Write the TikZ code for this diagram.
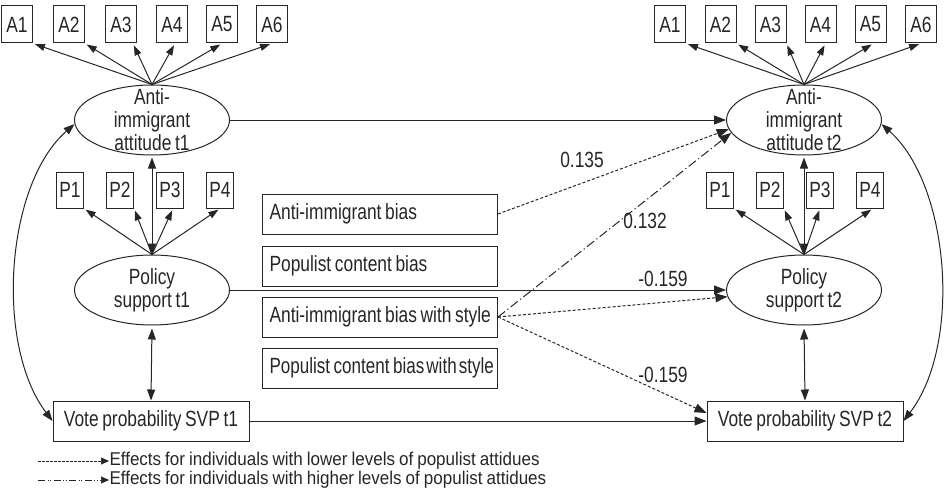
\documentclass[tikz,border=0pt]{standalone}
\usepackage{fontspec}
\setmainfont{Liberation Sans}[FakeStretch=0.79, WordSpace=0.75]
\newfontfamily\legfont{Liberation Sans}[FakeStretch=0.92, WordSpace=0.85]
\usetikzlibrary{shapes.geometric,arrows.meta}
\newcommand\lefttext[1]{\makebox[221pt][l]{#1}}
\begin{document}
\begin{tikzpicture}[x=1pt,y=-1pt, line width=1pt, draw=black!85, text=black!85,
 font=\fontsize{22}{23}\selectfont,
 tip/.style={-{Triangle[length=12pt,width=9pt]}},
 dtip/.style={{Triangle[length=11pt,width=8pt]}-{Triangle[length=11pt,width=8pt]}},
 smalltip/.style={-{Triangle[length=10pt,width=7pt]}},
 legtip/.style={-{Triangle[length=8pt,width=7pt]}},
 ind/.style={draw, minimum width=31pt, minimum height=37pt, inner sep=0pt},
 pind/.style={draw, minimum width=27pt, minimum height=36pt, inner sep=0pt},
 lat/.style={draw, ellipse, minimum width=155pt, minimum height=70pt, inner sep=0pt},
 lattext/.style={align=center, inner sep=0pt, text=black!85},
 obs/.style={draw, minimum width=196pt, minimum height=40pt, inner sep=0pt},
 bias/.style={draw, minimum width=235pt, minimum height=40pt, inner xsep=7pt, inner ysep=0pt},
 coef/.style={inner sep=0pt},
 lowfx/.style={dash pattern=on 3pt off 2pt},
 highfx/.style={dash pattern=on 9pt off 3pt on 1.2pt off 3pt},
 leglow/.style={dash pattern=on 2.5pt off 1.5pt},
 leghigh/.style={dash pattern=on 7pt off 2.5pt on 1pt off 1.5pt on 1pt off 2.5pt},
 legtext/.style={anchor=west, inner sep=0pt, font=\legfont\fontsize{18.5}{19}\selectfont},
]
\useasboundingbox (0,0) rectangle (951,495);

% ---------- left block ----------
\node[lat, label={[lattext]center:{Anti-\\immigrant\\attitude t1}}] (e1) at (152,120) {};
\node[lat, label={[lattext]center:{Policy\\support t1}}] (ps1) at (152,290) {};
\node[obs] (v1) at (151,421) {Vote probability SVP t1};

\node[ind] (la1) at (17,24.5) {A1};
\node[ind] (la2) at (69,24.5) {A2};
\node[ind] (la3) at (121,24.5) {A3};
\node[ind] (la4) at (172,24.5) {A4};
\node[ind] (la5) at (222,24.5) {A5};
\node[ind] (la6) at (272,24.5) {A6};

\node[pind] (lp1) at (70,190) {P1};
\node[pind] (lp2) at (120,190) {P2};
\node[pind] (lp3) at (170,190) {P3};
\node[pind] (lp4) at (220,190) {P4};

% ---------- right block ----------
\node[lat, label={[lattext]center:{Anti-\\immigrant\\attitude t2}}] (e2) at (804,120) {};
\node[lat, label={[lattext]center:{Policy\\support t2}}] (ps2) at (804,290) {};
\node[obs] (v2) at (805,421) {Vote probability SVP t2};

\node[ind] (ra1) at (670,24.5) {A1};
\node[ind] (ra2) at (720.5,24.5) {A2};
\node[ind] (ra3) at (770.5,24.5) {A3};
\node[ind] (ra4) at (820.5,24.5) {A4};
\node[ind] (ra5) at (870.5,24.5) {A5};
\node[ind] (ra6) at (921,24.5) {A6};

\node[pind] (rp1) at (720,190) {P1};
\node[pind] (rp2) at (770,190) {P2};
\node[pind] (rp3) at (820,190) {P3};
\node[pind] (rp4) at (870,190) {P4};

% ---------- middle bias boxes ----------
\node[bias] (b1) at (380,214) {\lefttext{Anti-immigrant bias}};
\node[bias] (b2) at (380,266) {\lefttext{Populist content bias}};
\node[bias] (b3) at (380,317) {\lefttext{Anti-immigrant bias with style}};
\node[bias] (b4) at (380,368) {\lefttext{\scalebox{0.98}[1]{Populist content bias\hspace{0.1em}with\hspace{0.1em}style}}};

% ---------- measurement arrows ----------
\foreach \n/\a/\s in {la1/south east/0, la2/south east/0, la3/south east/-4, la4/south/3, la5/south/0, la6/south/0}
  \draw[smalltip, shorten >=2pt] (e1.north) -- ([xshift=\s pt]\n.\a);
\foreach \n/\a/\s in {ra1/south east/0, ra2/south east/0, ra3/south east/0, ra4/south/5, ra5/south/3, ra6/south/0}
  \draw[smalltip, shorten >=2pt] (e2.north) -- ([xshift=\s pt]\n.\a);
\foreach \n/\a/\s in {lp1/south east/0, lp2/south east/0, lp3/south/3, lp4/south/0}
  \draw[smalltip, shorten >=2pt] (ps1.north) -- ([xshift=\s pt]\n.\a);
\foreach \n/\a/\s in {rp1/south east/0, rp2/south east/0, rp3/south/0, rp4/south/3}
  \draw[smalltip, shorten >=2pt] (ps2.north) -- ([xshift=\s pt]\n.\a);

% ---------- structural arrows ----------
\draw[dtip, shorten >=2pt] (ps1.north) -- (e1.south);
\draw[dtip, shorten <=3pt] (ps1.south) -- (v1.north);
\draw[dtip, shorten >=2pt] (ps2.north) -- (e2.south);
\draw[dtip, shorten <=3pt] (ps2.south) -- (v2.north);

\draw[dtip] (e1.183) .. controls (5,185) and (-5,345) .. (v1.west);
\draw[dtip] (e2.357) .. controls (950,185) and (962,345) .. (v2.east);

\draw[tip] (e1.east) -- (e2.west);
\draw[tip] (ps1.east) -- (ps2.west);
\draw[tip] (v1.east) -- (v2.west);

\draw[tip, lowfx] (b1.east) -- (e2.187);
\draw[tip, highfx] (b3.east) -- (e2.190);
\draw[tip, lowfx] (b3.east) -- (ps2.185);
\draw[tip, lowfx] (b3.east) -- ([yshift=8pt]v2.west);

\node[coef] (c1) at (582,160) {0.135};
\node[coef] (c2) at (645,221) {0.132};
\node[coef] (c3) at (663,279) {-0.159};
\node[coef] (c4) at (663,375) {-0.159};

% ---------- legend ----------
\coordinate (g1) at (38,461);
\coordinate (g2) at (38,480);
\node[legtext] (t1) at (109,461) {Effects for individuals with lower levels of populist attidues};
\node[legtext] (t2) at (109,480) {Effects for individuals with higher levels of populist attidues};
\draw[legtip, leglow, line width=0.7pt] (g1) -- (t1.west);
\draw[legtip, leghigh, line width=0.7pt] (g2) -- (t2.west);
\end{tikzpicture}
\end{document}
